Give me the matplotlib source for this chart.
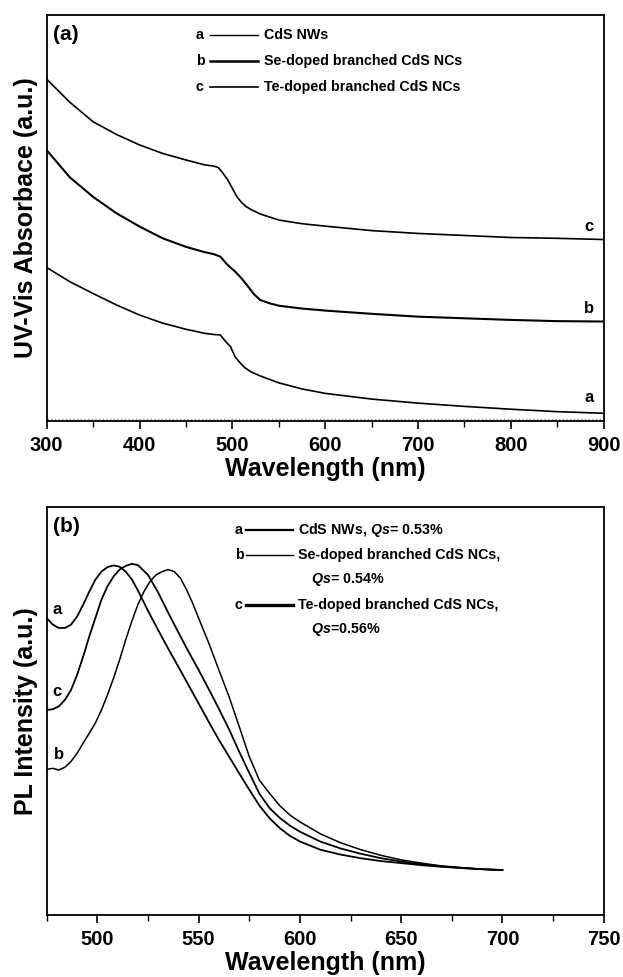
import matplotlib.pyplot as plt
from matplotlib.lines import Line2D

plt.rcParams['font.family'] = ['Liberation Sans', 'DejaVu Sans']
plt.rcParams['font.weight'] = 'bold'
plt.rcParams['mathtext.fontset'] = 'custom'
plt.rcParams['mathtext.bfit'] = 'Liberation Sans:italic:bold'

# (a) UV-Vis absorbance, arbitrary units
uv_wl_c = [300, 325, 350, 375, 400, 425, 450, 470, 480, 485, 490, 495, 500, 505, 510, 515, 520, 530, 550, 575,
           600, 650, 700, 750, 800, 850, 900]
uv_c = [0.842, 0.785, 0.737, 0.706, 0.680, 0.659, 0.643, 0.631, 0.628, 0.624, 0.610, 0.594, 0.573, 0.552, 0.538,
        0.528, 0.521, 0.510, 0.495, 0.486, 0.480, 0.469, 0.462, 0.457, 0.452, 0.450, 0.447]
uv_wl_b = [300, 325, 350, 375, 400, 425, 450, 470, 480, 487, 495, 503, 510, 517, 523, 530, 540, 550, 575, 600,
           650, 700, 750, 800, 850, 900]
uv_b = [0.667, 0.600, 0.552, 0.512, 0.479, 0.450, 0.429, 0.416, 0.411, 0.405, 0.384, 0.368, 0.351, 0.331, 0.313,
        0.298, 0.290, 0.284, 0.277, 0.272, 0.264, 0.257, 0.253, 0.249, 0.246, 0.245]
uv_wl_a = [300, 325, 350, 375, 400, 425, 450, 470, 480, 487, 493, 498, 503, 508, 513, 520, 530, 550, 575, 600,
           650, 700, 750, 800, 850, 900]
uv_a = [0.378, 0.343, 0.314, 0.286, 0.261, 0.241, 0.226, 0.216, 0.213, 0.212, 0.195, 0.183, 0.158, 0.144, 0.132,
        0.121, 0.111, 0.094, 0.079, 0.068, 0.054, 0.044, 0.036, 0.029, 0.023, 0.019]

# (b) PL intensity, arbitrary units
pl_wl_a = [475, 478, 481, 484, 487, 490, 493, 496, 499, 502, 505, 508, 511, 514, 517, 520, 525, 530, 535, 540,
           545, 550, 555, 560, 565, 570, 575, 580, 585, 590, 595, 600, 610, 620, 630, 640, 650, 660, 670, 680,
           690, 700]
pl_a = [0.727, 0.711, 0.703, 0.703, 0.711, 0.731, 0.760, 0.792, 0.821, 0.841, 0.852, 0.856, 0.853, 0.841, 0.822,
        0.795, 0.745, 0.698, 0.652, 0.608, 0.563, 0.518, 0.473, 0.429, 0.388, 0.347, 0.307, 0.268, 0.237, 0.213,
        0.194, 0.180, 0.160, 0.148, 0.139, 0.132, 0.127, 0.122, 0.118, 0.115, 0.112, 0.110]
pl_wl_c = pl_wl_a
pl_c = [0.502, 0.504, 0.511, 0.527, 0.551, 0.588, 0.633, 0.682, 0.727, 0.772, 0.805, 0.829, 0.846, 0.855, 0.860,
        0.857, 0.833, 0.790, 0.740, 0.692, 0.645, 0.600, 0.553, 0.505, 0.455, 0.400, 0.348, 0.297, 0.262, 0.238,
        0.219, 0.204, 0.180, 0.163, 0.150, 0.139, 0.131, 0.124, 0.119, 0.115, 0.112, 0.110]
pl_wl_b = [475, 478, 481, 484, 487, 490, 493, 496, 499, 502, 505, 508, 511, 514, 517, 520, 523, 526, 529, 532,
           535, 538, 541, 544, 547, 550, 555, 560, 565, 570, 575, 580, 585, 590, 595, 600, 610, 620, 630, 640,
           650, 660, 670, 680, 690, 700]
pl_b = [0.357, 0.359, 0.355, 0.362, 0.376, 0.396, 0.421, 0.445, 0.470, 0.502, 0.539, 0.580, 0.625, 0.674, 0.719,
        0.760, 0.792, 0.817, 0.833, 0.841, 0.846, 0.841, 0.825, 0.797, 0.764, 0.727, 0.666, 0.600, 0.535, 0.462,
        0.388, 0.330, 0.298, 0.268, 0.245, 0.228, 0.199, 0.177, 0.160, 0.146, 0.135, 0.127, 0.120, 0.116, 0.112,
        0.110]

fs_leg = 10.3

fig = plt.figure(figsize=(6.23, 9.77), dpi=100)
ax1 = fig.add_axes([0.075, 0.5691, 0.894, 0.4155])
ax2 = fig.add_axes([0.075, 0.0635, 0.894, 0.4179])

for ax in (ax1, ax2):
    for s in ax.spines.values():
        s.set_linewidth(1.3)
    ax.set_yticks([])
    ax.tick_params(axis='x', direction='out', length=6, width=1.2, labelsize=14.5, pad=5)
    ax.tick_params(axis='x', which='minor', direction='out', length=4, width=1.0)
    ax.set_ylim(0, 1)

# panel (a)
ax1.plot(uv_wl_c, uv_c, color='black', lw=1.2)
ax1.plot(uv_wl_b, uv_b, color='black', lw=1.5)
ax1.plot(uv_wl_a, uv_a, color='black', lw=1.2)
ax1.axhline(0.004, color='0.6', lw=1.0, ls=':')
ax1.set_xlim(300, 900)
ax1.set_xticks([300, 400, 500, 600, 700, 800, 900])
ax1.set_xticks([350, 450, 550, 650, 750, 850], minor=True)
ax1.set_xlabel('Wavelength (nm)', fontsize=18, fontweight='bold', labelpad=1)
ax1.set_ylabel('UV-Vis Absorbace (a.u.)', fontsize=18, fontweight='bold', labelpad=6)
ax1.text(0.012, 0.975, '(a)', transform=ax1.transAxes, fontsize=15, va='top', ha='left')
ax1.text(884, 0.478, 'c', fontsize=12, ha='center', va='center')
ax1.text(884, 0.278, 'b', fontsize=12, ha='center', va='center')
ax1.text(884, 0.057, 'a', fontsize=12, ha='center', va='center')

leg1 = [('a', 'CdS NWs', 1.0), ('b', 'Se-doped branched CdS NCs', 1.8), ('c', 'Te-doped branched CdS NCs', 1.2)]
for i, (k, name, lw) in enumerate(leg1):
    yy = 0.951 - i * 0.064
    ax1.text(0.268, yy, k, transform=ax1.transAxes, fontsize=fs_leg, va='center', ha='left')
    ax1.add_line(Line2D([0.293, 0.380], [yy, yy], transform=ax1.transAxes, color='black', lw=lw))
    ax1.text(0.390, yy, name, transform=ax1.transAxes, fontsize=fs_leg, va='center', ha='left')

# panel (b)
ax2.plot(pl_wl_a, pl_a, color='black', lw=1.3)
ax2.plot(pl_wl_b, pl_b, color='black', lw=1.1)
ax2.plot(pl_wl_c, pl_c, color='black', lw=1.3)
ax2.set_xlim(475, 750)
ax2.set_xticks([500, 550, 600, 650, 700, 750])
ax2.set_xticks([475, 525, 575, 625, 675, 725], minor=True)
ax2.set_xlabel('Wavelength (nm)', fontsize=18, fontweight='bold', labelpad=1)
ax2.set_ylabel('PL Intensity (a.u.)', fontsize=18, fontweight='bold', labelpad=6)
ax2.text(0.012, 0.975, '(b)', transform=ax2.transAxes, fontsize=15, va='top', ha='left')
ax2.text(480, 0.748, 'a', fontsize=12, ha='center', va='center')
ax2.text(480, 0.547, 'c', fontsize=12, ha='center', va='center')
ax2.text(481, 0.392, 'b', fontsize=12, ha='center', va='center')

leg2 = [('a', 'CdS NWs, $\\mathbfit{Qs}$= 0.53%', 1.6, None),
        ('b', 'Se-doped branched CdS NCs,', 1.0, '$\\mathbfit{Qs}$= 0.54%'),
        ('c', 'Te-doped branched CdS NCs,', 2.4, '$\\mathbfit{Qs}$=0.56%')]
row = 0
for k, name, lw, extra in leg2:
    yy = 0.944 - row * 0.0615
    ax2.text(0.338, yy, k, transform=ax2.transAxes, fontsize=fs_leg, va='center', ha='left')
    ax2.add_line(Line2D([0.358, 0.442], [yy, yy], transform=ax2.transAxes, color='black', lw=lw))
    ax2.text(0.451, yy, name, transform=ax2.transAxes, fontsize=fs_leg, va='center', ha='left')
    row += 1
    if extra:
        yy = 0.944 - row * 0.0615
        ax2.text(0.475, yy, extra, transform=ax2.transAxes, fontsize=fs_leg, va='center', ha='left')
        row += 1

fig.savefig('out.png', dpi=100)
